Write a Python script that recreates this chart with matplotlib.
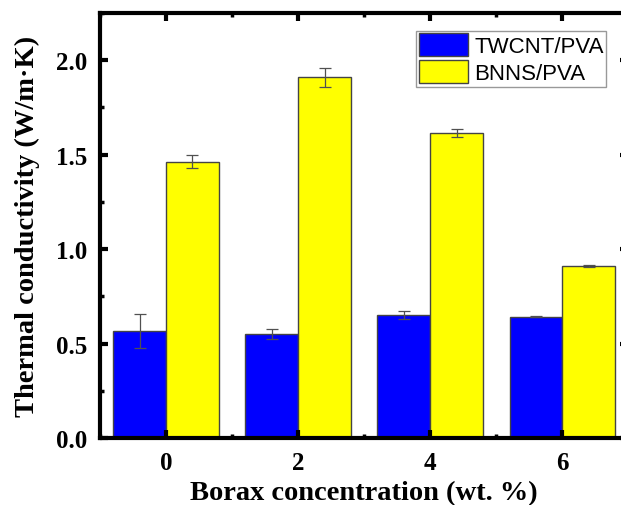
import matplotlib.pyplot as plt
import numpy as np
from matplotlib.ticker import MultipleLocator

# Data
borax = [0, 2, 4, 6]
twcnt = [0.568, 0.550, 0.652, 0.642]
twcnt_err = [0.090, 0.026, 0.021, 0.003]
bnns = [1.463, 1.910, 1.615, 0.911]
bnns_err = [0.036, 0.050, 0.020, 0.006]
labels = ['TWCNT/PVA', 'BNNS/PVA']

x = np.array(borax, dtype=float)
w = 0.8

fig = plt.figure(figsize=(6.21, 5.06), dpi=100)
# the right spine of the original is cut off by the image edge
ax = fig.add_axes([0.161, 0.1324, 0.851, 0.840])

err_kw = dict(ecolor='#505050', elinewidth=0.9, capsize=4, capthick=0.9)
ax.bar(x - w / 2, twcnt, w, yerr=twcnt_err, color='#0000FF', edgecolor='#444444',
       linewidth=1.0, error_kw=err_kw, label=labels[0])
ax.bar(x + w / 2, bnns, w, yerr=bnns_err, color='#FFFF00', edgecolor='#444444',
       linewidth=1.0, error_kw=err_kw, label=labels[1])

ax.set_xlim(-1, 7)
ax.set_ylim(0, 2.25)
ax.set_xticks(borax)
ax.xaxis.set_minor_locator(MultipleLocator(1))
ax.yaxis.set_major_locator(MultipleLocator(0.5))
ax.yaxis.set_minor_locator(MultipleLocator(0.25))
ax.yaxis.set_major_formatter(plt.FormatStrFormatter('%.1f'))

for s in ax.spines.values():
    s.set_linewidth(3)
ax.tick_params(which='both', direction='in', top=True, right=True)
ax.tick_params(which='major', length=6, width=3, pad=9)
ax.tick_params(which='minor', length=3, width=2.5)

font = {'family': 'Liberation Serif', 'weight': 'bold'}
for lab in ax.get_xticklabels() + ax.get_yticklabels():
    lab.set_fontfamily('Liberation Serif')
    lab.set_fontweight('bold')
    lab.set_fontsize(18)

ax.set_xlabel('Borax concentration (wt. %)', fontdict=font, fontsize=20.5, labelpad=5)
ax.set_ylabel('Thermal conductivity (W/m·K)', fontdict=font, fontsize=20.5, labelpad=12)

leg = ax.legend(loc='upper left', bbox_to_anchor=(0.598, 0.958), borderaxespad=0,
                prop={'family': 'Liberation Sans', 'size': 16}, fancybox=False,
                edgecolor='#999999', framealpha=1, handlelength=2.2, handleheight=1.2,
                handletextpad=0.3, labelspacing=0.12, borderpad=0.12)
leg.get_frame().set_linewidth(1)

fig.savefig('out.png', dpi=100)
